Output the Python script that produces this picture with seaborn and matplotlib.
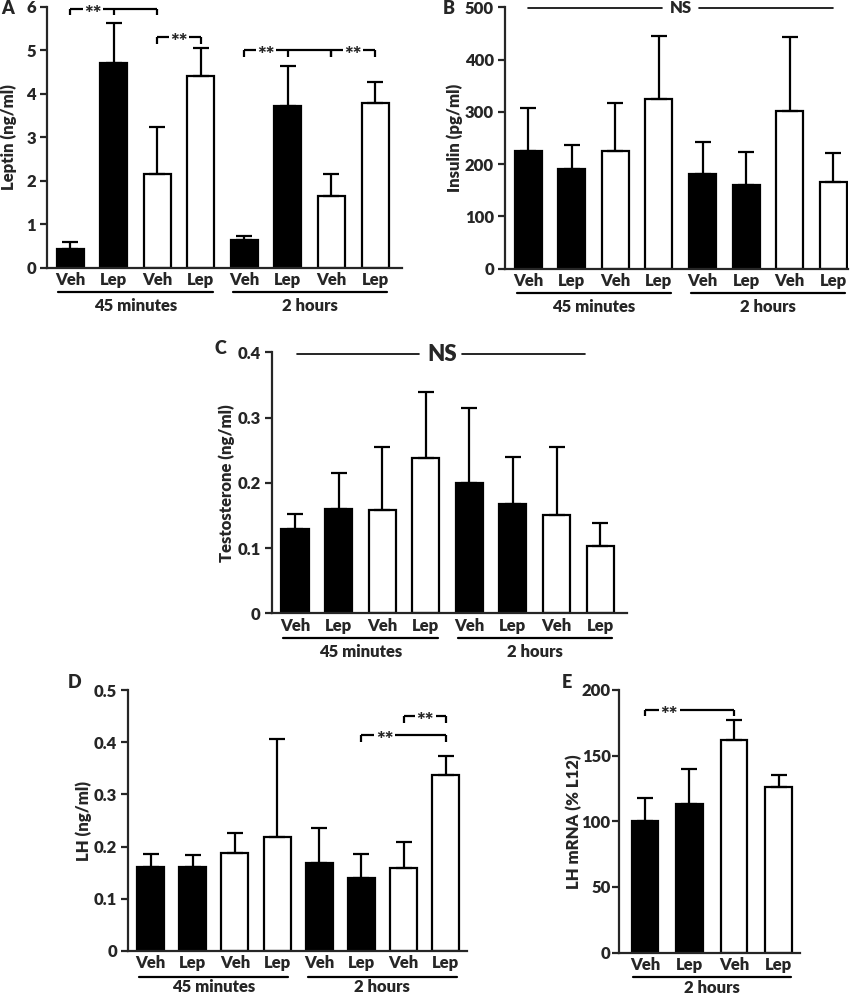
import numpy as np
import pandas as pd
import matplotlib
matplotlib.use("Agg")
import matplotlib.pyplot as plt
from matplotlib.transforms import blended_transform_factory
import seaborn as sns

# bar labels / fill colours
treatment = ["Veh", "Lep", "Veh", "Lep", "Veh", "Lep", "Veh", "Lep"]
fills = ["black", "black", "white", "white", "black", "black", "white", "white"]
time_groups = ["45 minutes", "2 hours"]

# panel A - leptin (ng/ml)
leptin_mean = [0.44, 4.70, 2.15, 4.41, 0.64, 3.72, 1.66, 3.78]
leptin_sem = [0.14, 0.93, 1.08, 0.64, 0.08, 0.92, 0.49, 0.50]

# panel B - insulin (pg/ml)
insulin_mean = [226, 191, 225, 325, 182, 161, 302, 166]
insulin_sem = [82, 46, 93, 121, 61, 62, 142, 55]

# panel C - testosterone (ng/ml)
testo_mean = [0.129, 0.160, 0.159, 0.238, 0.200, 0.168, 0.151, 0.103]
testo_sem = [0.024, 0.055, 0.096, 0.101, 0.114, 0.071, 0.104, 0.035]

# panel D - LH (ng/ml)
lh_mean = [0.160, 0.160, 0.188, 0.218, 0.169, 0.139, 0.159, 0.337]
lh_sem = [0.026, 0.023, 0.039, 0.189, 0.066, 0.047, 0.049, 0.037]

# panel E - LH mRNA (% L12), 2 hours only
mrna_treatment = ["Veh", "Lep", "Veh", "Lep"]
mrna_fills = ["black", "black", "white", "white"]
mrna_mean = [100, 113, 162, 126]
mrna_sem = [18, 27, 15, 9]

sns.set_style("ticks")
plt.rcParams["font.family"] = ["Lato", "DejaVu Sans"]
WT = "heavy"
plt.rcParams["font.weight"] = WT

LW = 1.6
FS = 12

fig = plt.figure(figsize=(8.6, 9.96), dpi=100)


def bar_panel(rect, means, sems, labels, colors, yticks, ylabel, xlim, width, label_x, ypad=3):
    ax = fig.add_axes(rect)
    n = len(means)
    df = pd.DataFrame({"bar": [str(i) for i in range(n)], "value": means})
    pal = {str(i): c for i, c in enumerate(colors)}
    sns.barplot(data=df, x="bar", y="value", hue="bar", palette=pal, legend=False,
                edgecolor="black", linewidth=LW, width=width, errorbar=None,
                saturation=1, ax=ax)
    ax.errorbar(np.arange(n), means, yerr=[np.zeros(n), sems], fmt="none",
                ecolor="black", elinewidth=LW, capsize=6, capthick=LW, zorder=1)
    ax.set_xlim(*xlim)
    ax.set_ylim(yticks[0], yticks[-1])
    ax.set_yticks(yticks)
    ax.set_yticklabels([f"{v:g}" for v in yticks], fontsize=FS, fontweight=WT)
    ax.set_xticks(np.arange(n))
    ax.set_xticklabels(labels, fontsize=FS, fontweight=WT)
    ax.tick_params(axis="x", length=0, pad=3)
    ax.tick_params(axis="y", length=5, width=LW, pad=ypad)
    for s in ["top", "right"]:
        ax.spines[s].set_visible(False)
    for s in ["left", "bottom"]:
        ax.spines[s].set_linewidth(LW)
    ax.set_xlabel("")
    ax.set_ylabel(ylabel, fontsize=FS, fontweight=WT)
    ax.yaxis.set_label_coords(label_x, 0.5)
    return ax


def time_labels(ax, spans, names, line_y, text_y):
    tr = blended_transform_factory(ax.transData, ax.transAxes)
    for (a, b), name in zip(spans, names):
        ax.plot([a - 0.27, b + 0.27], [line_y, line_y], color="black", lw=LW,
                transform=tr, clip_on=False)
        ax.text((a + b) / 2, text_y, name, transform=tr, ha="center", va="center",
                fontsize=FS, fontweight=WT)


def brackets(ax, specs, tick):
    for left, right, y, ticks, tx in specs:
        ax.plot([left, right], [y, y], color="black", lw=LW, clip_on=False,
                solid_capstyle="butt")
        for t in ticks:
            ax.plot([t, t], [y, y - tick], color="black", lw=LW, clip_on=False,
                    solid_capstyle="butt")
        ax.annotate("**", (tx, y), xytext=(0, -4), textcoords="offset points",
                    ha="center", va="center", fontsize=FS + 3, fontweight=WT,
                    bbox=dict(fc="white", ec="none", pad=1.0), annotation_clip=False)


def ns_line(ax, segs, y, tx, size):
    for a, b in segs:
        ax.plot([a, b], [y, y], color="black", lw=1.2, clip_on=False)
    ax.text(tx, y, "NS", ha="center", va="center", fontsize=size, fontweight=WT)


# A
axA = bar_panel([0.0547, 0.7312, 0.4128, 0.2620], leptin_mean, leptin_sem, treatment,
                fills, [0, 1, 2, 3, 4, 5, 6], "Leptin (ng/ml)", (-0.53, 7.62), 0.62, -0.085)
time_labels(axA, [(0, 3), (4, 7)], time_groups, -0.092, -0.145)
brackets(axA, [(0, 2, 5.96, [0, 1, 2], 0.53),
               (2, 3, 5.31, [2, 3], 2.5),
               (4, 6, 5.0, [4, 5, 6], 4.5),
               (6, 7, 5.0, [6, 7], 6.5)], 0.16)

# B
axB = bar_panel([0.5872, 0.7302, 0.3988, 0.2624], insulin_mean, insulin_sem, treatment,
                fills, [0, 100, 200, 300, 400, 500], "Insulin (pg/ml)", (-0.536, 7.34), 0.62, -0.122)
time_labels(axB, [(0, 3), (4, 7)], time_groups, -0.092, -0.145)
ns_line(axB, [(0, 3.07), (3.92, 7)], 498, 3.5, FS)

# C
axC = bar_panel([0.3159, 0.3842, 0.4128, 0.2620], testo_mean, testo_sem, treatment,
                fills, [0, 0.1, 0.2, 0.3, 0.4], "Testosterone (ng/ml)", (-0.535, 7.61), 0.62, -0.103)
time_labels(axC, [(0, 3), (4, 7)], time_groups, -0.095, -0.148)
ns_line(axC, [(0.04, 2.85), (3.83, 6.66)], 0.3975, 3.37, FS + 4)

# D
axD = bar_panel([0.1492, 0.0452, 0.3935, 0.2620], lh_mean, lh_sem, treatment,
                fills, [0, 0.1, 0.2, 0.3, 0.4, 0.5], "LH (ng/ml)", (-0.53, 7.5), 0.64, -0.107)
time_labels(axD, [(0, 3), (4, 7)], time_groups, -0.098, -0.138)
brackets(axD, [(6, 7, 0.45, [6, 7], 6.52),
               (5, 7, 0.413, [5, 7], 5.55)], 0.013)

# E
axE = bar_panel([0.7198, 0.0435, 0.2105, 0.2638], mrna_mean, mrna_sem, mrna_treatment,
                mrna_fills, [0, 50, 100, 150, 200], "LH mRNA (% L12)", (-0.58, 3.48), 0.6,
                -0.205, ypad=1)
time_labels(axE, [(0, 3)], ["2 hours"], -0.091, -0.135)
brackets(axE, [(0, 2, 185, [0, 2], 0.55)], 5)

# panel letters
for letter, (px, py) in zip("ABCDE", [(8, 9), (449, 9), (220, 348), (75, 683), (567, 683)]):
    fig.text(px / 860, 1 - py / 996, letter, ha="center", va="center",
             fontsize=FS + 1, fontweight=WT)

fig.savefig("out.png", dpi=100)
